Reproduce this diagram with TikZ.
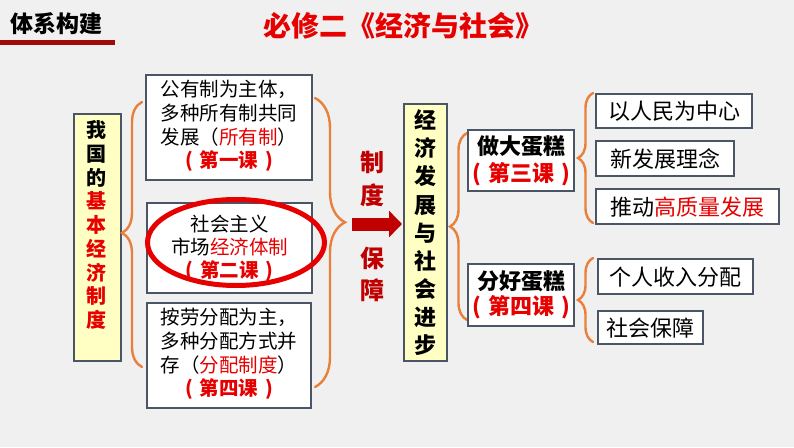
\documentclass[tikz,border=0pt]{standalone}
\usepackage{fontspec}
\setmainfont{Noto Sans CJK SC}
\usetikzlibrary{shapes.geometric,decorations.pathreplacing,arrows.meta}
\definecolor{bg}{HTML}{F0F0F0}
\definecolor{frame}{HTML}{4A5666}
\definecolor{ylw}{HTML}{FFFFC4}
\definecolor{txtred}{HTML}{E60000}
\definecolor{darkred}{HTML}{C00000}
\definecolor{brc}{HTML}{E8803A}
\definecolor{barred}{HTML}{A00A0A}
\newcommand{\rd}[1]{\textcolor{txtred}{#1}}
\newcommand{\lsn}[1]{{\bfseries\color{txtred}(\hspace{7pt}#1\hspace{7pt})}}
\begin{document}
\begin{tikzpicture}[x=1pt,y=-1pt,
  box/.style={draw=frame, line width=2.4pt, fill=white, inner sep=0pt, anchor=north west},
  ybox/.style={draw=frame, line width=2.4pt, fill=ylw, inner sep=0pt, anchor=north west},
  bodytext/.style={font=\fontsize{19.5}{23.3}\selectfont},
  righttext/.style={font=\fontsize{22}{26}\selectfont},
  bracestyle/.style={draw=brc, line width=2.4pt, line cap=round, decorate}
]
\fill[bg] (0,0) rectangle (794,447);
\useasboundingbox (0,0) rectangle (794,447);

% header
\node[font=\fontsize{23}{26}\selectfont\bfseries] (hdr) at (56,24) {体系构建};
\fill[barred] (0,40) rectangle (115,45);
\node[font=\fontsize{28}{32}\selectfont\bfseries, text=txtred] (title) at (403,26) {必修二《经济与社会》};

% left yellow box
\node[ybox, minimum width=47, minimum height=247] (basic) at (73,113) {};
\node[font=\fontsize{20}{23.75}\selectfont\bfseries, align=center] (basictxt) at (96.5,225)
  {我\\国\\的\\\rd{基}\\\rd{本}\\\rd{经}\\\rd{济}\\\rd{制}\\\rd{度}};

% three middle-left boxes
\node[box, minimum width=166, minimum height=105, bodytext] (own) at (145,74)
  {\begin{tabular}{@{}l@{}}公有制为主体，\\多种所有制共同\\发展（\rd{所有制}）\\\multicolumn{1}{@{}c@{}}{\lsn{第一课}}\end{tabular}};
\node[box, minimum width=165, minimum height=90, bodytext, align=center] (market) at (146,202)
  {社会主义\\\fontsize{19.5}{25}\selectfont 市场\rd{经济体制}\\\lsn{第二课}};
\node[box, minimum width=164, minimum height=105, bodytext] (dist) at (146,302)
  {\begin{tabular}{@{}l@{}}按劳分配为主，\\多种分配方式并\\存（\rd{分配制度}）\\\multicolumn{1}{@{}c@{}}{\lsn{第四课}}\end{tabular}};
\node[ellipse, draw=txtred, line width=5pt, minimum width=177, minimum height=86, inner sep=0pt] (ring) at (236,242.5) {};

% braces left
\coordinate (lbBot) at (142,367);
\coordinate (lbTop) at (142,102);
\draw[bracestyle, decoration={brace, amplitude=20pt, aspect=0.506}] (lbBot) -- (lbTop);
\coordinate (rbTop) at (315,98);
\coordinate (rbBot) at (315,387);
\draw[bracestyle, decoration={brace, amplitude=30pt, aspect=0.43}] (rbTop) -- (rbBot);

% institutional guarantee
\node[font=\fontsize{24}{33}\selectfont\bfseries, text=darkred, align=center] (zhidu) at (372,178.5) {制\\度};
\node[font=\fontsize{24}{32}\selectfont\bfseries, text=darkred, align=center] (baozhang) at (372,274) {保\\障};
\coordinate (arrStart) at (352,224);

% middle yellow box
\node[ybox, minimum width=43, minimum height=257] (prog) at (403,103) {};
\node[font=\fontsize{22}{28.1}\selectfont\bfseries, align=center] (progtxt) at (prog.center)
  {经\\济\\发\\展\\与\\社\\会\\进\\步};
\draw[darkred, line width=13pt, -{Triangle[length=13pt,width=26pt]}, shorten >=1pt] (arrStart) -- (prog.west |- arrStart);

% middle brace
\coordinate (mbBot) at (467,320);
\coordinate (mbTop) at (467,133);
\draw[bracestyle, decoration={brace, amplitude=17pt, aspect=0.5}] (mbBot) -- (mbTop);

% cake boxes
\node[box, minimum width=106, minimum height=61, align=center, font=\fontsize{22}{27}\selectfont\bfseries] (big) at (467,129)
  {做大蛋糕\\\lsn{第三课}};
\node[box, minimum width=106, minimum height=62, align=center, font=\fontsize{22}{25}\selectfont\bfseries] (share) at (467,263)
  {分好蛋糕\\\lsn{第四课}};

% right braces
\coordinate (b3Bot) at (593,223);
\coordinate (b3Top) at (593,93);
\draw[bracestyle, decoration={brace, amplitude=15pt, aspect=0.5}] (b3Bot) -- (b3Top);
\coordinate (b4Bot) at (593,342);
\coordinate (b4Top) at (593,258);
\draw[bracestyle, decoration={brace, amplitude=15pt, aspect=0.5}] (b4Bot) -- (b4Top);

% right boxes
\node[box, minimum width=156, minimum height=34, righttext] (people) at (595,93) {以人民为中心};
\node[box, minimum width=138, minimum height=35, righttext] (newidea) at (595,140) {新发展理念};
\node[box, minimum width=183, minimum height=35, righttext] (quality) at (595,188) {推动\rd{高质量发展}};
\node[box, minimum width=155, minimum height=35, righttext] (income) at (597,258) {个人收入分配};
\node[box, minimum width=105, minimum height=33, righttext] (social) at (597,310) {社会保障};
\end{tikzpicture}
\end{document}
